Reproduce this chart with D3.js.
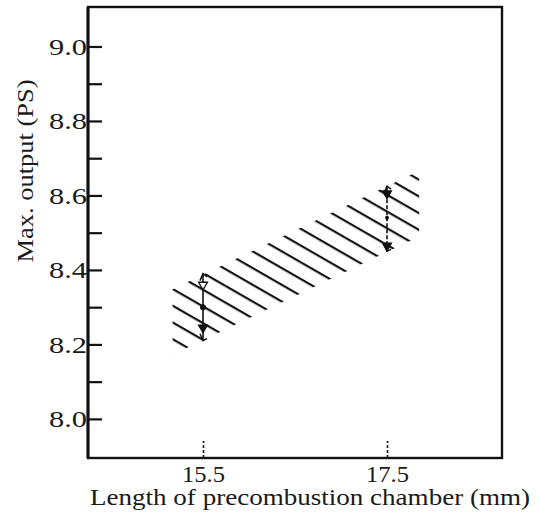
<!DOCTYPE html>
<html>
<head>
<meta charset="utf-8">
<script src="https://cdn.jsdelivr.net/npm/d3@7"></script>
<style>
  html, body { margin: 0; padding: 0; background: #fff; }
  svg { display: block; }
  svg text { font-family: 'Liberation Serif', 'Times New Roman', Times, serif !important; fill: #1a1a1a; }
</style>
</head>
<body>
<div id="chart"></div>
<script>
// ---- data ----
const lengths   = [15.5, 17.5];          // precombustion chamber length (mm)
const maxOutput = [8.39, 8.625];         // top of the range (PS)
const minOutput = [8.21, 8.45];          // bottom of the range (PS)
const meanOutput = [8.30, 8.54];         // mean value (PS)
const upperMark = [8.36, 8.605];         // upper marker
const lowerMark = [8.245, 8.465];        // lower marker
const bandX     = [15.17, 17.85];        // extent of hatched band (mm)
const bandUpper = [8.348, 8.666];        // upper edge of band (PS)
const bandLower = [8.172, 8.49];         // lower edge of band (PS)
const yMajorTicks = [8.0, 8.2, 8.4, 8.6, 8.8, 9.0];
const yMinorTicks = [8.1, 8.3, 8.5, 8.7, 8.9];
const xTicks = [15.5, 17.5];
const xTitle = "Length of precombustion chamber (mm)";
const yTitle = "Max. output (PS)";

// ---- layout ----
const W = 541, H = 520;
const L = 88, R = 502, T = 7, B = 458;
const FONT = "'Liberation Serif', 'Times New Roman', Times, serif";

const svg = d3.select("#chart").append("svg")
  .attr("width", W).attr("height", H)
  .attr("font-family", FONT);

const x = d3.scaleLinear().domain([14.25, 18.75]).range([L, R]);
const y = d3.scaleLinear().domain([7.895, 9.106]).range([B, T]);

// hatch pattern
const ang = 29.9;
const defs = svg.append("defs");
const pat = defs.append("pattern")
  .attr("id", "hatch")
  .attr("patternUnits", "userSpaceOnUse")
  .attr("width", 200).attr("height", 14.5)
  .attr("patternTransform", `rotate(${ang})`);
pat.append("line")
  .attr("x1", 0).attr("x2", 200)
  .attr("y1", 4.9).attr("y2", 4.9)
  .attr("stroke", "#111").attr("stroke-width", 2.1);

// hatched band
const bandData = bandX.map((v, i) => ({ x: v, lo: bandLower[i], hi: bandUpper[i] }));
svg.append("path")
  .datum(bandData)
  .attr("d", d3.area().x(d => x(d.x)).y0(d => y(d.lo)).y1(d => y(d.hi)))
  .attr("fill", "url(#hatch)")
  .attr("stroke", "none");

// error bars
const bars = lengths.map((v, i) => ({
  x: v, lo: minOutput[i], hi: maxOutput[i], mean: meanOutput[i],
  um: upperMark[i], lm: lowerMark[i], dashed: i === 1
}));
const g = svg.append("g");
g.selectAll("line.bar").data(bars).join("line")
  .attr("class", "bar")
  .attr("x1", d => x(d.x)).attr("x2", d => x(d.x))
  .attr("y1", d => y(d.lo)).attr("y2", d => y(d.hi))
  .attr("stroke", "#111").attr("stroke-width", 1.6)
  .attr("stroke-dasharray", d => d.dashed ? "4,2" : null);

// small hooks at bar ends
g.selectAll("path.hookTop").data(bars).join("path")
  .attr("d", d => `M${x(d.x) - 3},${y(d.hi) + 7} L${x(d.x)},${y(d.hi)} L${x(d.x) + 4},${y(d.hi) + 3}`)
  .attr("fill", "none").attr("stroke", "#111").attr("stroke-width", 1.5);
g.selectAll("path.hookBot").data(bars).join("path")
  .attr("d", d => `M${x(d.x) - 3},${y(d.lo) - 7} L${x(d.x)},${y(d.lo)} L${x(d.x) + 4},${y(d.lo) - 2}`)
  .attr("fill", "none").attr("stroke", "#111").attr("stroke-width", 1.5);

// triangle markers
const tri = d3.symbol().type(d3.symbolTriangle).size(34);
g.selectAll("path.um").data(bars).join("path")
  .attr("transform", d => `translate(${x(d.x)},${y(d.um)}) rotate(180)`)
  .attr("d", tri)
  .attr("fill", (d, i) => i === 0 ? "#fff" : "#111")
  .attr("stroke", "#111").attr("stroke-width", 1.3);
g.selectAll("path.lm").data(bars).join("path")
  .attr("transform", d => `translate(${x(d.x)},${y(d.lm)}) rotate(180)`)
  .attr("d", tri)
  .attr("fill", "#111").attr("stroke", "#111").attr("stroke-width", 1.3);
g.selectAll("circle.mean").data(bars).join("circle")
  .attr("cx", d => x(d.x)).attr("cy", d => y(d.mean))
  .attr("r", (d, i) => i === 0 ? 3 : 2)
  .attr("fill", "#111");

// axes
const yAxis = d3.axisLeft(y).tickValues(yMajorTicks).tickSize(-14).tickPadding(1)
  .tickFormat(d3.format(".1f"));
const yg = svg.append("g").attr("transform", `translate(${L},0)`).call(yAxis)
  .attr("font-family", FONT);
yg.select(".domain").remove();
yg.selectAll(".tick line").attr("stroke", "#111").attr("stroke-width", 2.2);
yg.selectAll(".tick text")
  .attr("font-size", 24)
  .attr("textLength", 38).attr("lengthAdjust", "spacingAndGlyphs");

const yMinor = d3.axisLeft(y).tickValues(yMinorTicks).tickSize(-14).tickFormat("");
const ymg = svg.append("g").attr("transform", `translate(${L},0)`).call(yMinor);
ymg.select(".domain").remove();
ymg.selectAll(".tick line").attr("stroke", "#111").attr("stroke-width", 2.2);

const xAxis = d3.axisBottom(x).tickValues(xTicks).tickSize(-17).tickPadding(8)
  .tickFormat(d3.format(".1f"));
const xg = svg.append("g").attr("transform", `translate(0,${B})`).call(xAxis)
  .attr("font-family", FONT);
xg.select(".domain").remove();
xg.selectAll(".tick line").attr("stroke", "#111").attr("stroke-width", 1.6)
  .attr("stroke-dasharray", "3,2");
xg.selectAll(".tick text")
  .attr("font-size", 23)
  .attr("textLength", 43).attr("lengthAdjust", "spacingAndGlyphs");

// frame
svg.append("rect")
  .attr("x", L).attr("y", T).attr("width", R - L).attr("height", B - T)
  .attr("fill", "none").attr("stroke", "#111").attr("stroke-width", 2.4);
svg.append("line")
  .attr("x1", L).attr("x2", L).attr("y1", T).attr("y2", B)
  .attr("stroke", "#111").attr("stroke-width", 3);

// titles
svg.append("text")
  .attr("x", 90).attr("y", 505)
  .attr("font-size", 23)
  .attr("textLength", 440).attr("lengthAdjust", "spacingAndGlyphs")
  .text(xTitle);

svg.append("text")
  .attr("transform", `translate(33,171) rotate(-90)`)
  .attr("text-anchor", "middle")
  .attr("font-size", 23)
  .attr("textLength", 183).attr("lengthAdjust", "spacingAndGlyphs")
  .text(yTitle);
</script>
</body>
</html>
